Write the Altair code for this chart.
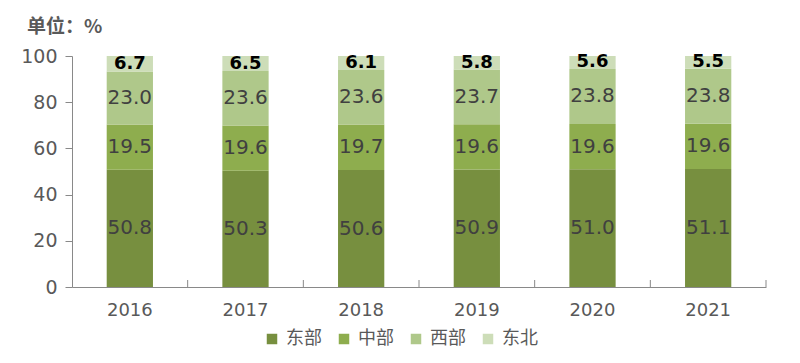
import altair as alt
import pandas as pd

years = ["2016", "2017", "2018", "2019", "2020", "2021"]
regions = ["东部", "中部", "西部", "东北"]
east = [50.8, 50.3, 50.6, 50.9, 51.0, 51.1]
central = [19.5, 19.6, 19.7, 19.6, 19.6, 19.6]
west = [23.0, 23.6, 23.6, 23.7, 23.8, 23.8]
northeast = [6.7, 6.5, 6.1, 5.8, 5.6, 5.5]
colors = ["#778F3F", "#8EAD4E", "#AFC88A", "#CDDDB8"]

series = [east, central, west, northeast]
rows = []
for ri, (reg, vals) in enumerate(zip(regions, series)):
    for y, v in zip(years, vals):
        rows.append({"year": y, "region": reg, "value": v, "ord": ri})
df = pd.DataFrame(rows)

FONT = "DejaVu Sans"
GRAY = "#898989"
LABEL = "#595959"

xscale = alt.Scale(paddingInner=0, paddingOuter=0)
xaxis = alt.Axis(labelAngle=0, ticks=False, labelFont=FONT, labelFontSize=18,
                 labelColor=LABEL, labelPadding=14, domainColor=GRAY, domainWidth=1)
base = alt.Chart(df)

bars = base.mark_bar(width=alt.RelativeBandSize(0.4)).encode(
    x=alt.X("year:N", scale=xscale, sort=years, title=None, axis=xaxis),
    y=alt.Y("value:Q", stack="zero", title=None,
            scale=alt.Scale(domain=[0, 100], nice=False),
            axis=alt.Axis(values=[0, 20, 40, 60, 80, 100], grid=False, labelFont=FONT,
                          labelFontSize=19, labelColor=LABEL, tickSize=7, labelPadding=8,
                          tickColor=GRAY, domainColor=GRAY)),
    color=alt.Color("region:N", scale=alt.Scale(domain=regions, range=colors),
                    legend=alt.Legend(title=None, orient="none", legendX=191, legendY=274,
                                      direction="horizontal", symbolType="square",
                                      symbolSize=110, symbolStrokeWidth=0,
                                      labelFont="Noto Sans CJK SC", labelFontSize=18,
                                      labelColor=LABEL, labelOffset=5, columnPadding=13)),
    order=alt.Order("ord:Q", sort="ascending"),
)

stacked = base.transform_stack(
    stack="value", as_=["v0", "v1"], groupby=["year"],
    sort=[alt.SortField("ord", order="ascending")]
).transform_calculate(mid="(datum.v0 + datum.v1) / 2")

txt_main = stacked.transform_filter("datum.region != '东北'").mark_text(
    font=FONT, fontSize=20, color="#404040", baseline="middle"
).encode(
    x=alt.X("year:N", sort=years, title=None),
    y=alt.Y("mid:Q"),
    text=alt.Text("value:Q", format=".1f"),
)

txt_top = stacked.transform_filter("datum.region == '东北'").mark_text(
    font=FONT, fontSize=18, fontWeight="bold", color="#000000", baseline="middle"
).encode(
    x=alt.X("year:N", sort=years, title=None),
    y=alt.Y("mid:Q"),
    text=alt.Text("value:Q", format=".1f"),
)

ticks = alt.Chart(pd.DataFrame({"year": years})).mark_rule(color=GRAY, strokeWidth=1).encode(
    x=alt.X("year:N", sort=years, bandPosition=1, title=None),
    y=alt.value(224),
    y2=alt.value(231),
)

title = alt.Chart(pd.DataFrame({"t": ["单位：%"]})).mark_text(
    font="Noto Sans CJK SC", fontSize=19, fontWeight="bold", color=LABEL,
    align="left", baseline="middle"
).encode(text="t:N", x=alt.value(-45), y=alt.value(-29))

chart = alt.layer(bars, ticks, txt_main, txt_top, title).properties(
    width=694, height=231,
    autosize=alt.AutoSizeParams(type="none"),
    padding={"left": 64, "top": 48, "right": 26, "bottom": 64},
).configure_view(stroke=None)

chart.save("out.html", embed_options={"renderer": "svg", "actions": False})
